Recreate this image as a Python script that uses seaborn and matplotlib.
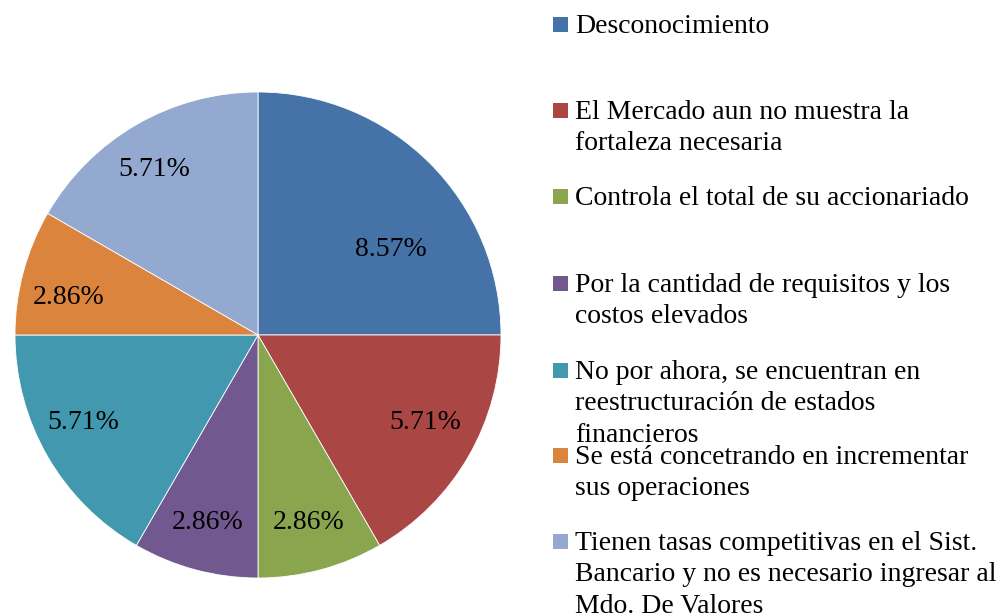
import matplotlib.pyplot as plt
from matplotlib.patches import Rectangle
import seaborn as sns

# ---------------------------------------------------------------------------
# Data
# ---------------------------------------------------------------------------
categories = [
    "Desconocimiento",
    "El Mercado aun no muestra la\nfortaleza necesaria",
    "Controla el total de su accionariado",
    "Por la cantidad de requisitos y los\ncostos elevados",
    "No por ahora, se encuentran en\nreestructuración de estados\nfinancieros",
    "Se está concetrando en incrementar\nsus operaciones",
    "Tienen tasas competitivas en el Sist.\nBancario y no es necesario ingresar al\nMdo. De Valores",
]
values = [8.57, 5.71, 2.86, 2.86, 5.71, 2.86, 5.71]
colors = ["#4572A7", "#AA4643", "#89A54E", "#71588F", "#4198AF", "#DB843D", "#93A9CF"]

sns.set_theme(style="white")
plt.rcParams["font.family"] = ["Liberation Serif", "DejaVu Serif"]

W, H = 1007, 616
fig = plt.figure(figsize=(W / 100, H / 100), dpi=100)

# pie axes: centre (258, 335) px, radius 243 px
cx, cy, r = 258, 335, 243
ax = fig.add_axes([(cx - r) / W, (H - cy - r) / H, 2 * r / W, 2 * r / H])

total = sum(values)
wedges, texts, autotexts = ax.pie(
    values,
    colors=colors,
    startangle=90,
    counterclock=False,
    autopct=lambda p: f"{p * total / 100:.2f}%",
    pctdistance=0.8,
    wedgeprops=dict(edgecolor="white", linewidth=0.6),
    textprops=dict(fontsize=20, color="black"),
    radius=1.0,
)
ax.set_xlim(-1, 1)
ax.set_ylim(-1, 1)
ax.set_aspect("equal")

# Excel's own label placement differs a little from the mid-angle rule
label_nudge = {0: (0.547, 0.35), 1: (0.69, -0.36), 4: (-0.72, -0.36),
               5: (-0.78, 0.155), 6: (-0.425, 0.68)}
for i, pos in label_nudge.items():
    autotexts[i].set_position(pos)

# ---------------------------------------------------------------------------
# Legend (Excel-style, manual layout)
# ---------------------------------------------------------------------------
first_line_centres = [24, 110, 196, 283, 370, 455, 541]
line_step = 31.3
for label, col, yc in zip(categories, colors, first_line_centres):
    fig.patches.append(Rectangle((553 / W, (H - yc - 7.5) / H), 15 / W, 15 / H,
                                 transform=fig.transFigure, facecolor=col,
                                 edgecolor="none"))
    for k, line in enumerate(label.split("\n")):
        fig.text(575 / W, (H - yc - 9 - k * line_step) / H, line, fontsize=20,
                 va="baseline", ha="left", color="black")

fig.savefig("out.png", dpi=100)
